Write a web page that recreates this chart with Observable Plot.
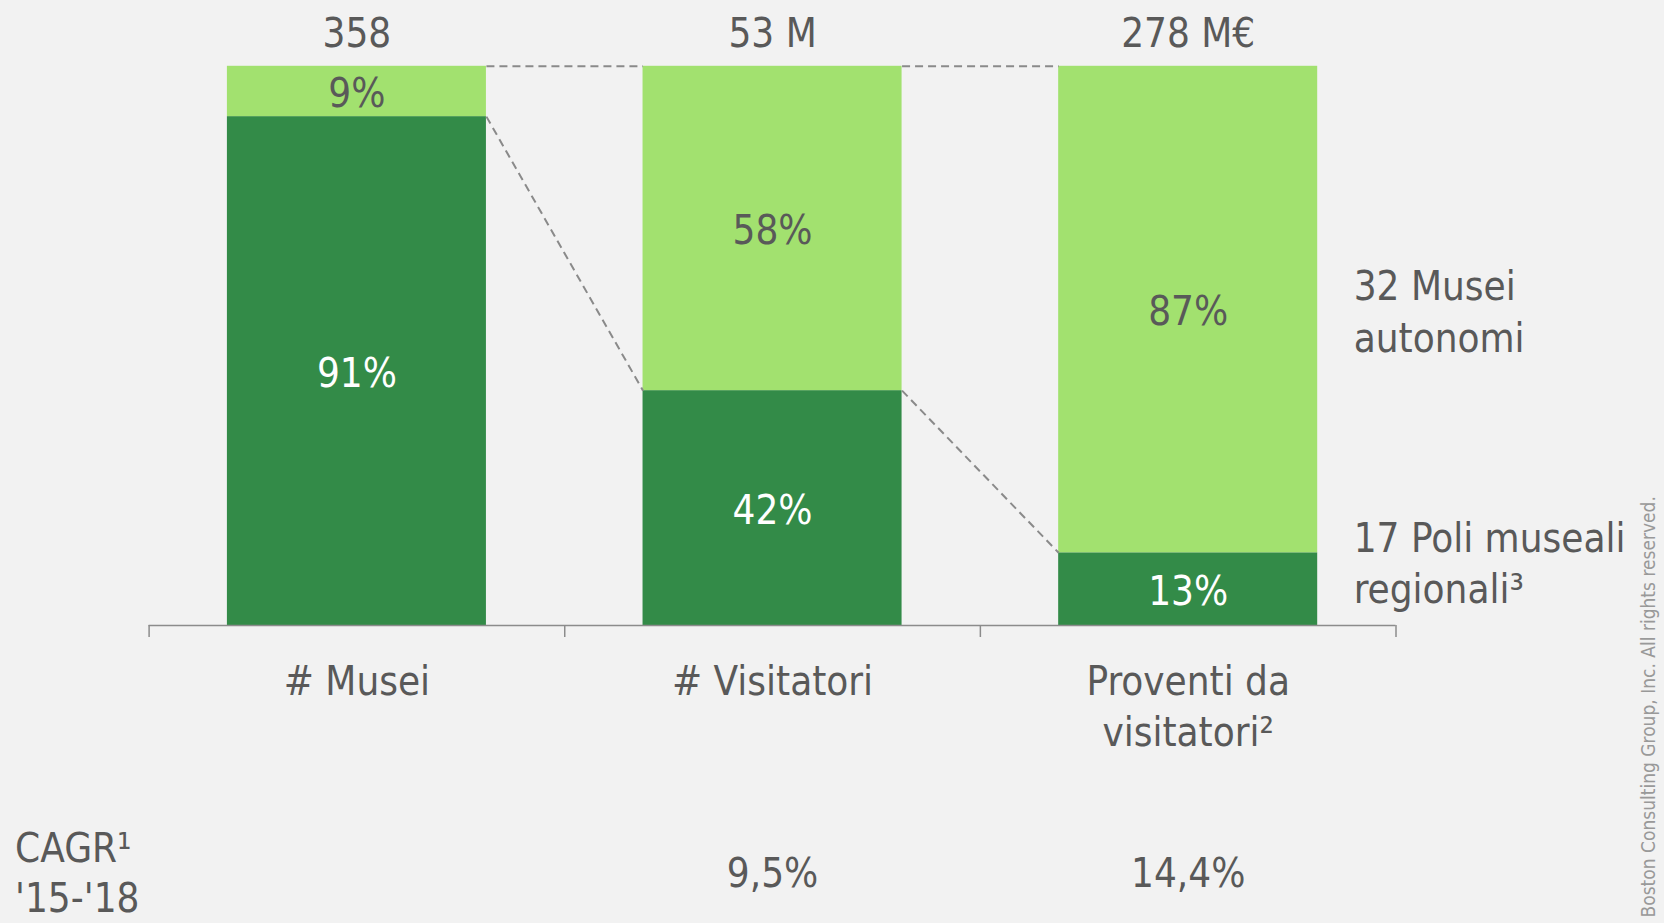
<!DOCTYPE html>
<html>
<head>
<meta charset="utf-8">
<script src="https://cdn.jsdelivr.net/npm/d3@7"></script>
<script src="https://cdn.jsdelivr.net/npm/@observablehq/plot@0.6"></script>
<style>
  html, body { margin: 0; padding: 0; background: #f2f2f2; overflow: hidden; }
</style>
</head>
<body>
<div id="chart"></div>
<script>
// ---- data ----
const categories = ["# Musei", "# Visitatori", "Proventi da\nvisitatori²"];
const totals = ["358", "53 M", "278 M€"];
const regionali = [91, 42, 13];   // % 17 Poli museali regionali
const autonomi = [9, 58, 87];     // % 32 Musei autonomi
const cagr = ["", "9,5%", "14,4%"];
const seriesNames = ["17 Poli museali\nregionali³", "32 Musei\nautonomi"];
const cagrLabel = "CAGR¹\n'15-'18";
const copyright = "Boston Consulting Group, Inc. All rights reserved.";

// ---- derived tables ----
const hw = 0.3116; // half bar width in band units
const idx = categories.map((_, i) => i);
const segs = [];
idx.forEach(i => {
  segs.push({i, s: 0, y1: 0, y2: regionali[i], label: regionali[i] + "%"});
  segs.push({i, s: 1, y1: regionali[i], y2: regionali[i] + autonomi[i], label: autonomi[i] + "%"});
});
const links = [];
for (let i = 0; i < idx.length - 1; i++) {
  links.push({x1: i + hw, y1: regionali[i] + autonomi[i], x2: i + 1 - hw, y2: regionali[i + 1] + autonomi[i + 1]});
  links.push({x1: i + hw, y1: regionali[i], x2: i + 1 - hw, y2: regionali[i + 1]});
}
const last = idx.length - 1;

const FONT = "'DejaVu Sans Condensed', 'DejaVu Sans', sans-serif";
const DARK = "#338b48", LIGHT = "#a2e16f", TXT = "#595959";

const chart = Plot.plot({
  width: 1664,
  height: 923,
  marginLeft: 148.6,
  marginRight: 268.5,
  marginTop: 65.8,
  marginBottom: 298,
  style: {background: "#f2f2f2", fontFamily: FONT, fontSize: "40px", color: TXT, fontStretch: "condensed"},
  x: {domain: [-0.5, 2.5]},
  y: {domain: [0, 100], axis: null},
  marks: [
    Plot.rect(segs, {x1: d => d.i - hw, x2: d => d.i + hw, y1: "y1", y2: "y2", fill: d => d.s === 0 ? DARK : LIGHT}),
    Plot.link(links, {x1: "x1", y1: "y1", x2: "x2", y2: "y2", stroke: "#8a8a8a", strokeWidth: 2, strokeDasharray: "8,5"}),
    Plot.ruleY([0], {x1: -0.5, x2: 2.5, stroke: "#8c8c8c", strokeWidth: 1.5}),
    Plot.axisX({ticks: [-0.5, 0.5, 1.5, 2.5], tickSize: 12, tickFormat: () => "", stroke: "#8c8c8c", strokeWidth: 1.5}),
    Plot.text(segs, {x: "i", y: d => (d.y1 + d.y2) / 2, text: "label", fill: d => d.s === 0 ? "white" : TXT, lineAnchor: "middle", dy: 3, fontSize: 40}),
    Plot.text(totals, {x: (d, i) => i, y: () => 100, text: d => d, dy: -32, lineAnchor: "middle", fontSize: 40}),
    Plot.text(categories, {x: (d, i) => i, frameAnchor: "bottom", text: d => d, dy: 33, lineAnchor: "top", lineHeight: 1.28, fontSize: 40}),
    Plot.text(cagr, {x: (d, i) => i, frameAnchor: "bottom", text: d => d, dy: 249, lineAnchor: "middle", fontSize: 40}),
    Plot.text([cagrLabel], {frameAnchor: "bottom-left", text: d => d, dx: -134, dy: 245, textAnchor: "start", lineAnchor: "middle", lineHeight: 1.25, fontSize: 40}),
    Plot.text([seriesNames[1]], {x: () => last + hw, y: () => regionali[last] + autonomi[last] / 2, text: d => d, dx: 36, textAnchor: "start", lineAnchor: "middle", lineHeight: 1.28, fontSize: 40}),
    Plot.text([seriesNames[0]], {x: () => last + hw, y: () => regionali[last] / 2, text: d => d, dx: 36, dy: -28, textAnchor: "start", lineAnchor: "middle", lineHeight: 1.28, fontSize: 40}),
    Plot.text([copyright], {frameAnchor: "bottom-right", text: d => d, dx: 252.5, dy: 292, rotate: -90, textAnchor: "start", lineAnchor: "middle", fontSize: 19, fontFamily: "'DejaVu Sans', sans-serif", fill: "#999999"})
  ]
});
document.getElementById("chart").appendChild(chart);
</script>
</body>
</html>
